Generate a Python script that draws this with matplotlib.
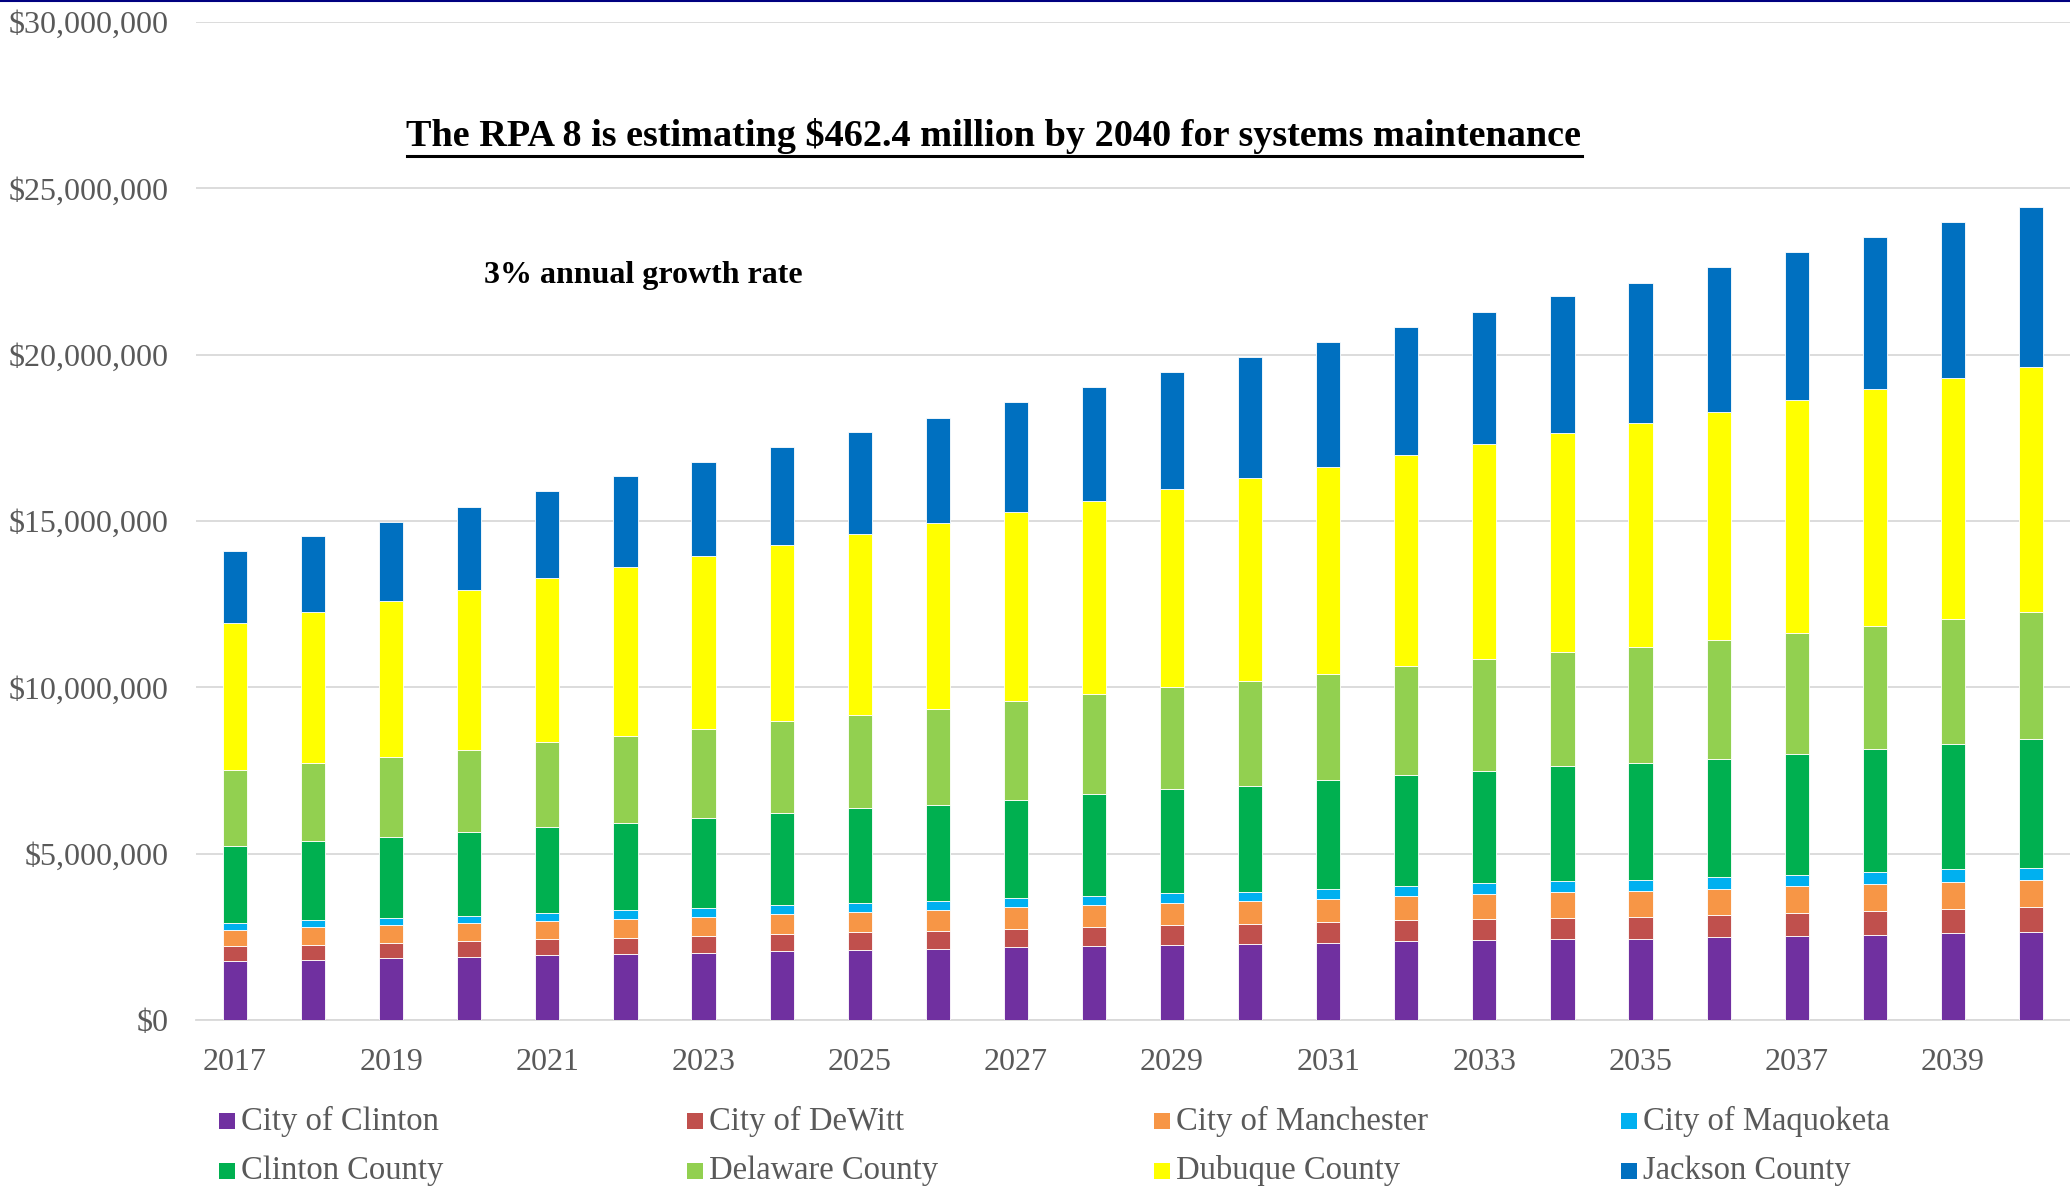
import numpy as np
import matplotlib
matplotlib.use("Agg")
import matplotlib.pyplot as plt
from matplotlib.patches import Rectangle
from matplotlib.lines import Line2D
from matplotlib.ticker import FuncFormatter

plt.rcParams["font.family"] = ["Liberation Serif", "DejaVu Serif"]

years = list(range(2017, 2041))

# values in millions of dollars
city_of_clinton = [1.78, 1.81, 1.85, 1.89, 1.94, 1.97, 2.02, 2.07, 2.11, 2.13, 2.18, 2.22,
                   2.26, 2.29, 2.32, 2.37, 2.40, 2.43, 2.44, 2.49, 2.52, 2.56, 2.61, 2.64]
city_of_dewitt = [0.44, 0.45, 0.46, 0.47, 0.48, 0.50, 0.51, 0.52, 0.53, 0.55, 0.56, 0.57,
                  0.59, 0.60, 0.62, 0.63, 0.64, 0.65, 0.67, 0.68, 0.70, 0.71, 0.73, 0.75]
city_of_manchester = [0.50, 0.53, 0.54, 0.55, 0.56, 0.57, 0.57, 0.60, 0.61, 0.63, 0.65, 0.67,
                      0.67, 0.68, 0.70, 0.73, 0.74, 0.77, 0.76, 0.78, 0.80, 0.83, 0.81, 0.83]
city_of_maquoketa = [0.20, 0.22, 0.22, 0.23, 0.24, 0.26, 0.26, 0.27, 0.28, 0.26, 0.27, 0.28,
                     0.29, 0.29, 0.30, 0.31, 0.34, 0.32, 0.33, 0.36, 0.34, 0.36, 0.38, 0.36]
clinton_county = [2.30, 2.36, 2.43, 2.50, 2.57, 2.62, 2.70, 2.76, 2.83, 2.90, 2.94, 3.05,
                  3.13, 3.17, 3.26, 3.31, 3.35, 3.46, 3.53, 3.55, 3.65, 3.70, 3.78, 3.86]
delaware_county = [2.30, 2.35, 2.42, 2.49, 2.56, 2.62, 2.69, 2.76, 2.82, 2.88, 2.99, 3.01,
                   3.07, 3.16, 3.21, 3.28, 3.37, 3.42, 3.47, 3.56, 3.62, 3.68, 3.74, 3.82]
dubuque_county = [4.42, 4.55, 4.67, 4.80, 4.93, 5.07, 5.19, 5.30, 5.43, 5.58, 5.69, 5.81,
                  5.95, 6.10, 6.21, 6.34, 6.46, 6.61, 6.74, 6.86, 7.00, 7.12, 7.25, 7.37]
jackson_county = [2.15, 2.28, 2.39, 2.50, 2.61, 2.73, 2.82, 2.95, 3.08, 3.18, 3.29, 3.43,
                  3.52, 3.63, 3.76, 3.87, 3.98, 4.09, 4.22, 4.35, 4.45, 4.57, 4.69, 4.80]

labels = ["City of Clinton", "City of DeWitt", "City of Manchester", "City of Maquoketa",
          "Clinton County", "Delaware County", "Dubuque County", "Jackson County"]
colors = ["#7030A0", "#C0504D", "#F79646", "#00B0F0",
          "#00B050", "#92D050", "#FFFF00", "#0070C0"]
series = [city_of_clinton, city_of_dewitt, city_of_manchester, city_of_maquoketa,
          clinton_county, delaware_county, dubuque_county, jackson_county]

fig = plt.figure(figsize=(20.7, 11.87), dpi=100)
ax = fig.add_axes([196 / 2070, 1 - 1020 / 1187, 1 - 196 / 2070, (1020 - 22) / 1187])

bottom = np.zeros(len(years))
for vals, lab, col in zip(series, labels, colors):
    v = np.array(vals) * 1e6
    ax.bar(years, v, width=0.31, bottom=bottom, color=col, label=lab,
           edgecolor="white", linewidth=0.6, zorder=3)
    bottom += v

ax.set_xlim(2016.5, 2040.5)
ax.set_ylim(0, 30e6)
ax.set_yticks(np.arange(0, 30e6 + 1, 5e6))
ax.yaxis.set_major_formatter(FuncFormatter(lambda v, p: "${:,.0f}".format(v)))
ax.set_xticks(years[::2])
ax.grid(axis="y", color="#D9D9D9", linewidth=1.3, zorder=0)
for s in ["left", "right", "top"]:
    ax.spines[s].set_visible(False)
ax.spines["bottom"].set_color("#D9D9D9")
ax.spines["bottom"].set_linewidth(1.3)
ax.tick_params(axis="both", length=0, labelsize=23, labelcolor="#595959")
ax.tick_params(axis="x", pad=20)
ax.tick_params(axis="y", pad=20)

# title + subtitle
title = fig.text(994 / 2070, 1 - 136 / 1187, "The RPA 8 is estimating $462.4 million by 2040 for systems maintenance",
                 ha="center", va="center", fontsize=27.5, fontweight="bold", color="black")
fig.text(643 / 2070, 1 - 275 / 1187, "3% annual growth rate",
         ha="center", va="center", fontsize=23, fontweight="bold", color="black")

fig.canvas.draw()
bb = title.get_window_extent(renderer=fig.canvas.get_renderer())
uy = (bb.y0 - 2) / fig.bbox.height
fig.add_artist(Line2D([bb.x0 / fig.bbox.width, bb.x1 / fig.bbox.width], [uy, uy],
                      transform=fig.transFigure, color="black", linewidth=2.2))

# top border line
fig.add_artist(Line2D([0, 1], [0.999, 0.999], transform=fig.transFigure,
                      color="#000080", linewidth=1.5))

# legend, 2 rows x 4 columns
col_x = [219, 687, 1154, 1621]
row_y = [1121, 1171]
for i, (lab, col) in enumerate(zip(labels, colors)):
    cx = col_x[i % 4]
    cy = row_y[i // 4]
    fig.add_artist(Rectangle((cx / 2070, 1 - (cy + 8) / 1187), 16 / 2070, 16 / 1187,
                             transform=fig.transFigure, facecolor=col, edgecolor="none"))
    fig.text((cx + 22) / 2070, 1 - cy / 1187, lab, ha="left", va="center",
             fontsize=23.5, color="#595959")

fig.savefig("out.png", dpi=100)
